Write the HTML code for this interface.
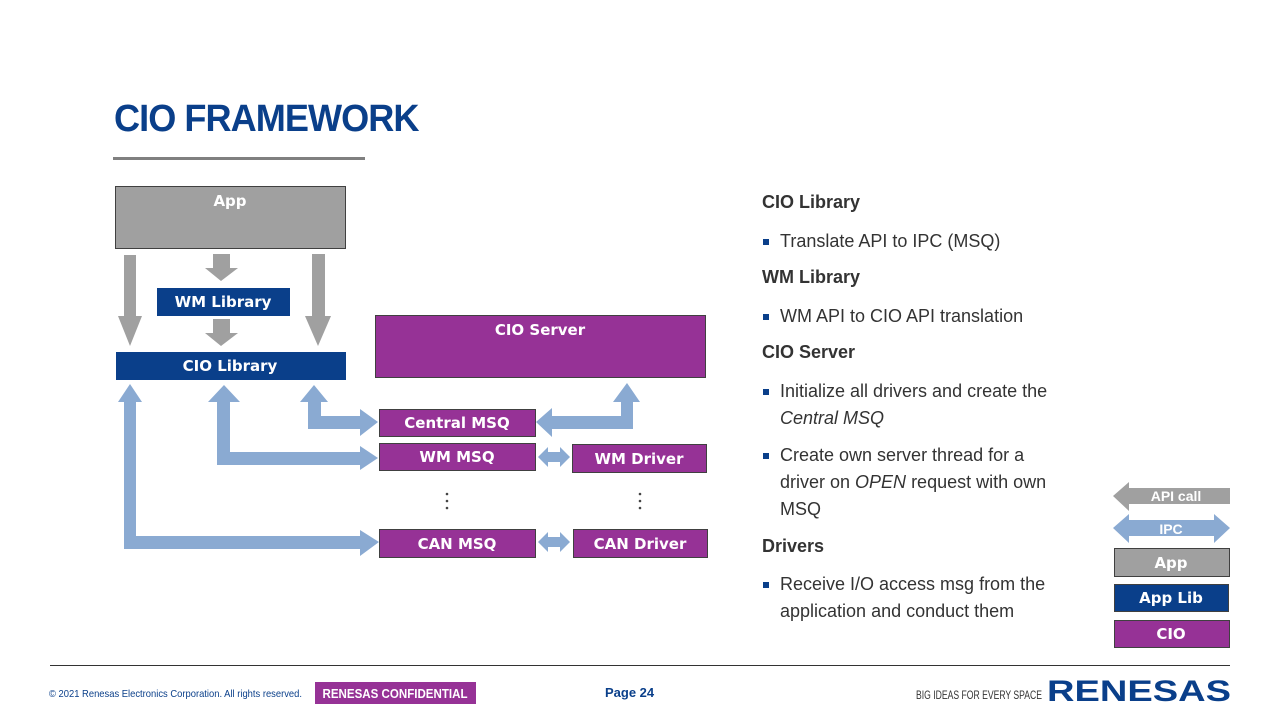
<!DOCTYPE html>
<html><head><meta charset="utf-8"><style>
body{margin:0;width:1280px;height:720px;background:#fff;font-family:"Liberation Sans",sans-serif;position:relative;overflow:hidden}
.t{position:absolute;left:114px;top:98px;font-size:38px;font-weight:bold;color:#0a3f8a;letter-spacing:-1px;transform:scaleX(0.95);transform-origin:left}
.r{position:absolute;left:762px;color:#333;font-size:18px}
.h{font-weight:bold}
.b{left:780px;line-height:27px}
.b:before{content:"";position:absolute;left:-17px;top:11px;width:6px;height:6px;background:#0a3f8a}
</style></head><body>
<div class="t">CIO FRAMEWORK</div>
<div style="position:absolute;left:113px;top:157px;width:252px;height:3px;background:#808080"></div>
<svg width="1280" height="720" style="position:absolute;left:0;top:0" font-family="DejaVu Sans, sans-serif" font-weight="bold" font-size="15">
<g fill="#a0a0a0">
<polygon points="124,255 136,255 136,316 142,316 130,346 118,316 124,316"/>
<polygon points="213,254 230,254 230,268 238,268 221,281 205,268 213,268"/>
<polygon points="213,319 230,319 230,333 238,333 221,346 205,333 213,333"/>
<polygon points="312,254 325,254 325,316 331,316 318,346 305,316 312,316"/>
</g>
<g fill="#8aaad2">
<polygon points="130,384 142,402 136,402 136,536 360,536 360,530 379,542 360,556 360,549 124,549 124,402 118,402"/>
<polygon points="224,385 240,402 230,402 230,452 360,452 360,446 378,458 360,470 360,465 217,465 217,402 208,402"/>
<polygon points="314,385 328,402 321,402 321,416 360,416 360,409 378,422 360,436 360,429 308,429 308,402 300,402"/>
<polygon points="536,422 552,408 552,416 621,416 621,402 613,402 627,383 640,402 633,402 633,429 552,429 552,437"/>
<polygon points="538,457 548,447 548,452 560,452 560,447 570,457 560,467 560,462 548,462 548,467"/>
<polygon points="538,542 548,532 548,537 560,537 560,532 570,542 560,552 560,547 548,547 548,552"/>
</g>
<g stroke="#404040" stroke-width="1">
<rect x="115.5" y="186.5" width="230" height="62" fill="#a0a0a0"/>
<rect x="157.5" y="288.5" width="132" height="27" fill="#0a3f8a" stroke="#0a3f8a"/>
<rect x="116.5" y="352.5" width="229" height="27" fill="#0a3f8a" stroke="#0a3f8a"/>
<rect x="375.5" y="315.5" width="330" height="62" fill="#963296"/>
<rect x="379.5" y="409.5" width="156" height="27" fill="#963296"/>
<rect x="379.5" y="443.5" width="156" height="27" fill="#963296"/>
<rect x="572.5" y="444.5" width="134" height="28" fill="#963296"/>
<rect x="379.5" y="529.5" width="156" height="28" fill="#963296"/>
<rect x="573.5" y="529.5" width="134" height="28" fill="#963296"/>
</g>
<g fill="#fff" text-anchor="middle">
<text x="230" y="206">App</text>
<text x="223" y="307">WM Library</text>
<text x="230" y="371">CIO Library</text>
<text x="540" y="335">CIO Server</text>
<text x="457" y="428">Central MSQ</text>
<text x="457" y="462">WM MSQ</text>
<text x="639" y="464">WM Driver</text>
<text x="457" y="549">CAN MSQ</text>
<text x="640" y="549">CAN Driver</text>
</g>
<g fill="#444"><circle cx="447" cy="494" r="1.3"/><circle cx="447" cy="501" r="1.3"/><circle cx="447" cy="508" r="1.3"/>
<circle cx="640" cy="494" r="1.3"/><circle cx="640" cy="501" r="1.3"/><circle cx="640" cy="508" r="1.3"/></g>
<!-- legend -->
<polygon points="1113,496 1129,482 1129,488 1230,488 1230,504 1129,504 1129,511" fill="#a0a0a0"/>
<polygon points="1113,528 1129,514 1129,520 1214,520 1214,514 1230,528 1214,543 1214,536 1129,536 1129,543" fill="#8aaad2"/>
<g font-family="Liberation Sans, sans-serif" font-size="14" fill="#fff" text-anchor="middle"><text x="1176" y="501">API call</text><text x="1171" y="534">IPC</text></g>
<rect x="1114.5" y="548.5" width="115" height="28" fill="#a0a0a0" stroke="#404040"/>
<rect x="1114.5" y="584.5" width="114" height="27" fill="#0a3f8a" stroke="#404040"/>
<rect x="1114.5" y="620.5" width="115" height="27" fill="#963296" stroke="#404040"/>
<g fill="#fff" text-anchor="middle"><text x="1171" y="568">App</text><text x="1171" y="603">App Lib</text><text x="1171" y="639">CIO</text></g>
<line x1="50" y1="665.5" x2="1230" y2="665.5" stroke="#333" stroke-width="1"/>
<g font-family="Liberation Sans, sans-serif" font-weight="normal">
<text x="49" y="697" font-size="10.5" fill="#0a3f8a" textLength="253" lengthAdjust="spacingAndGlyphs">© 2021 Renesas Electronics Corporation. All rights reserved.</text>
<rect x="315" y="682" width="161" height="22" fill="#963296"/>
<text x="395" y="698" font-size="13" fill="#fff" text-anchor="middle" font-weight="bold" textLength="145" lengthAdjust="spacingAndGlyphs">RENESAS CONFIDENTIAL</text>
<text x="605" y="697" font-size="13" fill="#0a3f8a" font-weight="bold">Page 24</text>
<text x="916" y="699" font-size="12" fill="#333" textLength="126" lengthAdjust="spacingAndGlyphs">BIG IDEAS FOR EVERY SPACE</text>
<text x="1047" y="701" font-size="30" fill="#0a3f8a" font-weight="bold" textLength="184" lengthAdjust="spacingAndGlyphs">RENESAS</text>
</g>
</svg>
<div class="r h" style="top:192px">CIO Library</div>
<div class="r b" style="top:228px">Translate API to IPC (MSQ)</div>
<div class="r h" style="top:267px">WM Library</div>
<div class="r b" style="top:303px">WM API to CIO API translation</div>
<div class="r h" style="top:342px">CIO Server</div>
<div class="r b" style="top:378px">Initialize all drivers and create the<br><i>Central MSQ</i></div>
<div class="r b" style="top:442px">Create own server thread for a<br>driver on <i>OPEN</i> request with own<br>MSQ</div>
<div class="r h" style="top:536px">Drivers</div>
<div class="r b" style="top:571px">Receive I/O access msg from the<br>application and conduct them</div>
</body></html>
